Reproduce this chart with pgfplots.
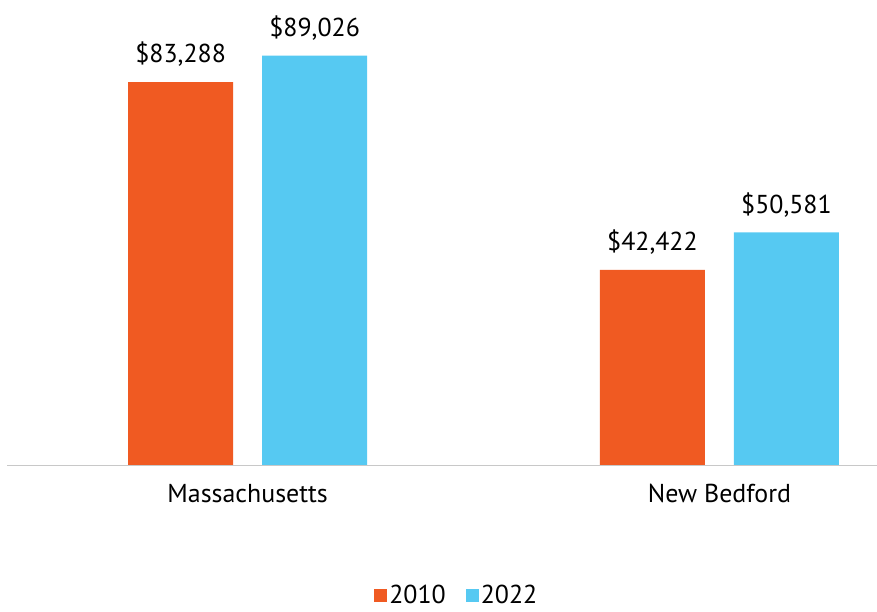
\documentclass[border=0pt]{standalone}
\usepackage{pgfplots}
\pgfplotsset{compat=1.18}
\usepackage{fontspec}
\setmainfont{PT Sans}
\definecolor{orangebar}{RGB}{240,90,34}
\definecolor{bluebar}{RGB}{86,201,242}
\definecolor{axisgray}{RGB}{200,200,200}
\begin{document}
\begin{tikzpicture}
\useasboundingbox (0,0) rectangle (877bp,612bp);
\begin{axis}[
  at={(7bp,147bp)}, anchor=south west,
  scale only axis, width=870bp, height=440bp,
  xmin=-0.51, xmax=1.334, ymin=0, ymax=95700,
  ybar=29bp, bar width=105bp,
  axis y line=none,
  axis x line*=bottom,
  x axis line style={-, draw=axisgray, line width=1bp},
  xtick={0,1}, xticklabels={Massachusetts, New Bedford},
  major tick length=0pt, xtick style={draw=none},
  ytick=\empty,
  x tick label style={font=\fontsize{26}{30}\selectfont, yshift=-16bp},
  nodes near coords={\$\pgfmathprintnumber[fixed,precision=0,1000 sep={,},assume math mode=true]{\pgfplotspointmeta}},
  every node near coord/.append style={font=\fontsize{26}{30}\selectfont, yshift=12bp},
  legend style={at={(0.517,-0.296)}, anchor=center, draw=none, fill=none,
    legend columns=2, font=\fontsize{26}{30}\selectfont,
    /tikz/every even column/.append style={column sep=18bp}},
  legend image code/.code={\fill[#1] (2bp,-7bp) rectangle (15bp,6bp);},
]
\addplot[fill=orangebar, draw=none] coordinates {(0,83288) (1,42422)};
\addplot[fill=bluebar, draw=none] coordinates {(0,89026) (1,50581)};
\legend{2010,2022}
\end{axis}
\end{tikzpicture}
\end{document}
